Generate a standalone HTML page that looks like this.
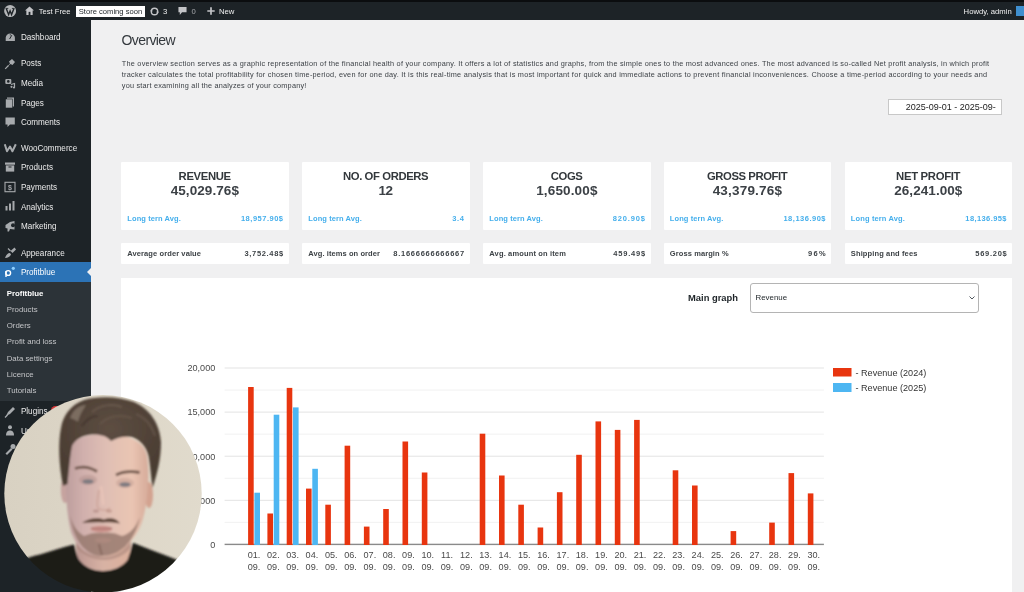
<!DOCTYPE html>
<html><head><meta charset="utf-8">
<style>
*{margin:0;padding:0;box-sizing:border-box}
html,body{width:1024px;height:592px;overflow:hidden;background:#f0f0f1;font-family:"Liberation Sans",sans-serif;color:#3c434a}
.abs{position:absolute}
#topbar{position:absolute;left:0;top:0;width:1034px;height:20px;background:#1d2327}
#topbar .blk{position:absolute;left:0;top:0;width:1034px;height:2px;background:#0b0d0f}
#side{position:absolute;left:0;top:20px;width:91.4px;height:582px;background:#1d2327}
.tb{position:absolute;color:#f0f0f0;font-size:7.7px;top:6.5px;line-height:9px;white-space:nowrap}
.mi{position:absolute;left:20.9px;color:#eaeaea;font-size:8.15px;line-height:10px;white-space:nowrap;margin-top:1.2px}
.sm{position:absolute;left:6.7px;color:#c3c4c7;font-size:7.85px;line-height:10px;white-space:nowrap;margin-top:0.8px}
.ic{position:absolute;left:5px;width:10px;height:10px}
#title{position:absolute;left:121.5px;top:31.6px;font-size:14px;letter-spacing:-0.6px;color:#33383d;white-space:nowrap}
#desc{position:absolute;left:121.8px;top:58.7px;font-size:7.3px;line-height:11.2px;color:#3a3f44;white-space:nowrap}
#date{position:absolute;left:888px;top:99px;width:114px;height:16px;background:#fff;border:1px solid #c8c8c8;font-size:9px;color:#222;padding-left:16.8px;line-height:14px;white-space:nowrap;overflow:hidden}
.card{position:absolute;background:#fff;border-radius:1px;width:167.6px}
.big{top:161.5px;height:68px}
.sml{top:243px;height:21px}
.ct{position:absolute;left:0;width:100%;text-align:center;font-weight:bold;font-size:11.3px;top:8.4px;color:#33383c;white-space:nowrap}
.cv{position:absolute;left:0;width:100%;text-align:center;font-weight:bold;font-size:13.5px;top:21.7px;color:#3c4146;white-space:nowrap}
.la{position:absolute;left:6.3px;top:52.9px;font-size:7.5px;color:#45afec;font-weight:bold;white-space:nowrap}
.ra{position:absolute;right:5.6px;top:52.9px;font-size:7.5px;color:#45afec;font-weight:bold;white-space:nowrap}
.ls{position:absolute;left:6.3px;top:6.3px;font-size:7.5px;color:#3d4246;font-weight:bold;white-space:nowrap}
.rs{position:absolute;right:5.4px;top:6.3px;font-size:7.5px;color:#3d4246;font-weight:bold;white-space:nowrap}
#panel{position:absolute;left:121px;top:277.5px;width:891px;height:320px;background:#fff}
#mg{position:absolute;left:688px;top:291.6px;font-size:9.4px;font-weight:bold;color:#1d2327;white-space:nowrap}
#sel{position:absolute;left:750px;top:283px;width:229px;height:29.5px;border:1px solid #b4b4b4;border-radius:3px;background:#fff}
#sel span{position:absolute;left:4.5px;top:9.3px;font-size:7.9px;color:#1d2327}
svg text.ax{font-family:"Liberation Sans",sans-serif;font-size:9.1px;fill:#4a4a4a}
svg text.lg{font-family:"Liberation Sans",sans-serif;font-size:9.1px;fill:#333}
#wrap{position:absolute;left:-10px;top:-10px;width:1044px;height:612px;background:#f0f0f1;overflow:hidden;filter:blur(0.75px)}
#inner{position:absolute;left:10px;top:10px;width:1024px;height:592px}
#ext1{position:absolute;left:-10px;top:-10px;width:1044px;height:12px;background:#0b0d0f}
#ext2{position:absolute;left:-10px;top:0;width:10px;height:610px;background:#1d2327}
#ext3{position:absolute;left:121px;top:590px;width:891px;height:12px;background:#fff}
</style></head><body>
<div id="wrap"><div id="inner">
<div id="ext1"></div><div id="ext2"></div><div id="ext3"></div>
<div id="topbar"><div class="blk"></div>
<svg class="abs" style="left:3.9px;top:4.9px" width="12.2" height="12.2" viewBox="0 0 20 20"><circle cx="10" cy="10" r="9.8" fill="#b4b6b8"/><path d="M3.8 6 L7.6 15.8 L10 9.6 L12.4 15.8 L16.2 6" fill="none" stroke="#1d2327" stroke-width="2.3"/><path d="M2.5 5.6 H7 M13 5.6 H17.5" stroke="#1d2327" stroke-width="1.4"/></svg>
<svg class="abs" style="left:25px;top:6px" width="9" height="9" viewBox="0 0 10 10"><path d="M5 0.5 L10 5 L8.5 5 L8.5 10 L1.5 10 L1.5 5 L0 5 Z" fill="#c3c4c7"/><rect x="4" y="6.5" width="2" height="3.5" fill="#1d2327"/></svg>
<div class="tb" style="left:38.8px;font-size:7.6px">Test Free</div>
<div class="abs" style="left:75.5px;top:6px;width:69px;height:10.5px;background:#fff"></div>
<div class="tb" style="left:78.8px;top:6.7px;color:#1d2327;font-size:7.6px">Store coming soon</div>
<svg class="abs" style="left:149.5px;top:6.5px" width="9" height="9" viewBox="0 0 10 10"><circle cx="5" cy="5" r="3.6" fill="none" stroke="#c3c4c7" stroke-width="1.5"/><path d="M0 4 L2 6 L3 4 Z M10 6 L8 4 L7 6Z" fill="#c3c4c7"/></svg>
<div class="tb" style="left:163px">3</div>
<svg class="abs" style="left:177.5px;top:6px" width="9" height="10" viewBox="0 0 10 10"><path d="M0.5 0.5 H9.5 V6.5 H4.5 L2 9.5 V6.5 H0.5 Z" fill="#c3c4c7"/></svg>
<div class="tb" style="left:191.5px;color:#a7aaad">0</div>
<svg class="abs" style="left:206.8px;top:7.4px" width="8" height="8" viewBox="0 0 8 8"><path d="M4 0.3 V7.7 M0.3 4 H7.7" stroke="#c3c4c7" stroke-width="1.7"/></svg>
<div class="tb" style="left:219px">New</div>
<div class="tb" style="left:963.6px">Howdy, admin</div>
<div class="abs" style="left:1016px;top:5.5px;width:10px;height:10px;background:#3f8fcf"></div>
</div>

<div id="side">
<div class="abs" style="left:0;top:241.6px;width:91.4px;height:20px;background:#2c73b6"></div>
<div class="abs" style="left:0;top:261.6px;width:91.4px;height:119.6px;background:#2c3338"></div>
<svg class="abs" style="left:86.6px;top:247px" width="5" height="10" viewBox="0 0 5 10"><path d="M5 0 L0 5 L5 10 Z" fill="#f0f0f1"/></svg>
<svg class="abs" style="left:0;top:0" width="91" height="572" viewBox="0 20 91 572">
<g fill="#a7aaad">
<!-- dashboard gauge -->
<path d="M5.7 41.1 V37.8 A4.6 4.4 0 0 1 14.9 37.8 V41.1 Z"/>
<path d="M9.6 39 L11.8 35.2" stroke="#1d2327" stroke-width="1"/>
<circle cx="10.3" cy="34.8" r="0.6" fill="#1d2327"/>
<!-- posts pin -->
<path d="M6 68 L10 63.5 L9 61.5 L12 59 L15 62 L12.5 65 L10.5 64 Z"/>
<path d="M5.2 68.8 L8.5 65.5" stroke="#a7aaad" stroke-width="1.2"/>
<!-- media -->
<rect x="5.3" y="79" width="6" height="5" rx="1"/>
<circle cx="8.3" cy="81.4" r="1.3" fill="#1d2327"/>
<path d="M11 84.5 L14.5 83.5 L14.5 87.5" stroke="#a7aaad" stroke-width="1.2" fill="none"/>
<circle cx="11.5" cy="86.8" r="1.1"/><circle cx="14" cy="87.5" r="1.1"/>
<!-- pages -->
<rect x="7" y="97.5" width="7" height="9"/>
<rect x="5.5" y="99" width="7" height="9" stroke="#1d2327" stroke-width="0.6"/>
<!-- comments -->
<path d="M5.5 117.5 H14.8 V124.5 H10 L7.5 127 V124.5 H5.5 Z"/>
<!-- woo W -->
<path d="M4.8 144.2 L7 151.3 L10 146.5 L12.4 151.3 L15.8 144.2" fill="none" stroke="#a7aaad" stroke-width="2" stroke-linejoin="round"/>
<!-- products archive -->
<rect x="5" y="162.5" width="10" height="2.2"/>
<rect x="5.8" y="165.4" width="8.4" height="6.2"/>
<rect x="8.5" y="166.5" width="3" height="1" fill="#1d2327"/>
<!-- payments -->
<rect x="5" y="182.3" width="10" height="9.4" fill="none" stroke="#a7aaad" stroke-width="1.1"/>
<text x="10" y="190.2" font-size="7" text-anchor="middle" font-family="Liberation Sans" font-weight="bold">$</text>
<!-- analytics -->
<rect x="5.5" y="206" width="2" height="4.5"/>
<rect x="9" y="203.5" width="2" height="7"/>
<rect x="12.5" y="201" width="2" height="9.5"/>
<!-- marketing megaphone -->
<path d="M5.5 225 L10 222 L14.5 221 L14.5 229.5 L10 229 L9 231.5 L7.5 231.5 L7.5 228.5 L5.5 228 Z"/>
<circle cx="13" cy="225.2" r="2" fill="#1d2327"/>
<!-- appearance brush -->
<path d="M14.5 247.5 L10.5 251 L12.5 253 L16 249.5 Z"/>
<path d="M5 258 C6 255 7.5 253 10 253 L11 254.5 C10 256.5 8 258 5 258 Z"/>
<path d="M8 248.5 L10.5 251" stroke="#a7aaad" stroke-width="1.2"/>
<!-- plugins -->
<path d="M6 416 L8 412 L13 407 L15 409 L10 414 Z"/>
<path d="M5 417.5 L7.5 415" stroke="#a7aaad" stroke-width="1.3"/>
<!-- users -->
<circle cx="10" cy="427.3" r="2"/>
<path d="M6 435.5 C6 431.5 8 430.5 10 430.5 C12 430.5 14 431.5 14 435.5 Z"/>
<!-- tools -->
<path d="M5.5 453.5 L11 448 L12.5 449.5 L7 455 Z"/>
<circle cx="13" cy="446.5" r="2.5"/>
</g>
<!-- profitblue logo -->
<g>
<circle cx="8.2" cy="273" r="2.4" fill="none" stroke="#fff" stroke-width="1.4"/>
<rect x="5.3" y="271" width="1.4" height="6" fill="#fff"/>
<circle cx="13.3" cy="268.3" r="1.6" fill="#8fd0ff"/>
</g>
</svg>
<div class="mi" style="top:12.2px">Dashboard</div>
<div class="mi" style="top:38px">Posts</div>
<div class="mi" style="top:57.9px">Media</div>
<div class="mi" style="top:77.6px">Pages</div>
<div class="mi" style="top:97px">Comments</div>
<div class="mi" style="top:122.7px">WooCommerce</div>
<div class="mi" style="top:142.3px">Products</div>
<div class="mi" style="top:162px">Payments</div>
<div class="mi" style="top:181.6px">Analytics</div>
<div class="mi" style="top:201.3px">Marketing</div>
<div class="mi" style="top:227.4px">Appearance</div>
<div class="mi" style="top:246.4px;color:#fff">Profitblue</div>
<div class="sm" style="top:267.8px;color:#fff;font-weight:bold">Profitblue</div>
<div class="sm" style="top:284px">Products</div>
<div class="sm" style="top:300.3px">Orders</div>
<div class="sm" style="top:316.5px">Profit and loss</div>
<div class="sm" style="top:332.9px">Data settings</div>
<div class="sm" style="top:349px">Licence</div>
<div class="sm" style="top:365px">Tutorials</div>
<div class="mi" style="top:386.2px">Plugins</div>
<div class="abs" style="left:50.8px;top:386.3px;width:11px;height:9px;border-radius:5px;background:#d63638"></div>
<div class="mi" style="top:406.2px">Users</div>
<div class="mi" style="top:424.7px">Tools</div>
<div class="mi" style="top:444px">Settings</div>
</div>

<div id="title">Overview</div>
<div id="desc"><div style="position:absolute;left:0;top:-0.6px;letter-spacing:0.241px">The overview section serves as a graphic representation of the financial health of your company. It offers a lot of statistics and graphs, from the simple ones to the most advanced ones. The most advanced is so-called Net profit analysis, in which profit</div><div style="position:absolute;left:0;top:10.6px;letter-spacing:0.25px">tracker calculates the total profitability for chosen time-period, even for one day. It is this real-time analysis that is most important for quick and immediate actions to prevent financial inconveniences. Choose a time-period according to your needs and</div><div style="position:absolute;left:0;top:21.6px;letter-spacing:0.21px">you start examining all the analyzes of your company!</div></div>
<div id="date">2025-09-01 - 2025-09-</div>

<div class="card big" style="left:121px"><div class="ct"><span style="letter-spacing:-0.367px;margin-right:0.367px">REVENUE</span></div><div class="cv"><span style="letter-spacing:0.083px;margin-right:-0.083px">45,029.76$</span></div><div class="la" style="letter-spacing:0.088px">Long tern Avg.</div><div class="ra" style="letter-spacing:0.500px;margin-right:-0.500px">18,957.90$</div></div>
<div class="card big" style="left:302px"><div class="ct"><span style="letter-spacing:-0.396px;margin-right:0.396px">NO. OF ORDERS</span></div><div class="cv"><span style="letter-spacing:-0.550px;margin-right:0.550px">12</span></div><div class="la" style="letter-spacing:0.088px">Long tern Avg.</div><div class="ra" style="letter-spacing:0.675px;margin-right:-0.675px">3.4</div></div>
<div class="card big" style="left:483px"><div class="ct"><span style="letter-spacing:-0.367px;margin-right:0.367px">COGS</span></div><div class="cv"><span style="letter-spacing:0.144px;margin-right:-0.144px">1,650.00$</span></div><div class="la" style="letter-spacing:0.088px">Long tern Avg.</div><div class="ra" style="letter-spacing:0.842px;margin-right:-0.842px">820.90$</div></div>
<div class="card big" style="left:663.5px"><div class="ct"><span style="letter-spacing:-0.414px;margin-right:0.414px">GROSS PROFIT</span></div><div class="cv"><span style="letter-spacing:0.194px;margin-right:-0.194px">43,379.76$</span></div><div class="la" style="letter-spacing:0.088px">Long tern Avg.</div><div class="ra" style="letter-spacing:0.500px;margin-right:-0.500px">18,136.90$</div></div>
<div class="card big" style="left:844.5px"><div class="ct"><span style="letter-spacing:-0.306px;margin-right:0.306px">NET PROFIT</span></div><div class="cv"><span style="letter-spacing:0.067px;margin-right:-0.067px">26,241.00$</span></div><div class="la" style="letter-spacing:0.135px">Long tern Avg.</div><div class="ra" style="letter-spacing:0.400px;margin-right:-0.400px">18,136.95$</div></div>
<div class="card sml" style="left:121px"><div class="ls" style="letter-spacing:0.100px">Average order value</div><div class="rs" style="letter-spacing:0.662px;margin-right:-0.662px">3,752.48$</div></div>
<div class="card sml" style="left:302px"><div class="ls" style="letter-spacing:0.081px">Avg. items on order</div><div class="rs" style="letter-spacing:0.750px;margin-right:-0.750px">8.1666666666667</div></div>
<div class="card sml" style="left:483px"><div class="ls" style="letter-spacing:0.147px">Avg. amount on item</div><div class="rs" style="letter-spacing:0.800px;margin-right:-0.800px">459.49$</div></div>
<div class="card sml" style="left:663.5px"><div class="ls" style="letter-spacing:0.096px">Gross margin %</div><div class="rs" style="letter-spacing:1.400px;margin-right:-1.400px">96%</div></div>
<div class="card sml" style="left:844.5px"><div class="ls" style="letter-spacing:0.125px">Shipping and fees</div><div class="rs" style="letter-spacing:0.708px;margin-right:-0.708px">569.20$</div></div>

<div id="panel"></div>
<div id="mg">Main graph</div>
<div id="sel"><span>Revenue</span><svg class="abs" style="left:218px;top:12px" width="6" height="4" viewBox="0 0 6 4"><path d="M0.5 0.5 L3 3 L5.5 0.5" fill="none" stroke="#50575e" stroke-width="1"/></svg></div>

<svg class="abs" style="left:0;top:0" width="1024" height="592">
<rect x="224.6" y="367.50" width="599.3" height="1" fill="#e3e3e3"/>
<rect x="224.6" y="389.55" width="599.3" height="1" fill="#f1f1f1"/>
<rect x="224.6" y="411.60" width="599.3" height="1" fill="#e3e3e3"/>
<rect x="224.6" y="433.65" width="599.3" height="1" fill="#f1f1f1"/>
<rect x="224.6" y="455.70" width="599.3" height="1" fill="#e3e3e3"/>
<rect x="224.6" y="477.75" width="599.3" height="1" fill="#f1f1f1"/>
<rect x="224.6" y="499.80" width="599.3" height="1" fill="#e3e3e3"/>
<rect x="224.6" y="521.85" width="599.3" height="1" fill="#f1f1f1"/>
<rect x="224.6" y="543.70" width="599.3" height="1.4" fill="#8a8a8a"/>
<rect x="248.10" y="387.00" width="5.6" height="158.00" fill="#e8350f"/>
<rect x="267.40" y="513.50" width="5.6" height="31.50" fill="#e8350f"/>
<rect x="286.70" y="387.90" width="5.6" height="157.10" fill="#e8350f"/>
<rect x="306.00" y="488.60" width="5.6" height="56.40" fill="#e8350f"/>
<rect x="325.30" y="504.70" width="5.6" height="40.30" fill="#e8350f"/>
<rect x="344.60" y="445.70" width="5.6" height="99.30" fill="#e8350f"/>
<rect x="363.90" y="526.60" width="5.6" height="18.40" fill="#e8350f"/>
<rect x="383.20" y="509.00" width="5.6" height="36.00" fill="#e8350f"/>
<rect x="402.50" y="441.50" width="5.6" height="103.50" fill="#e8350f"/>
<rect x="421.80" y="472.50" width="5.6" height="72.50" fill="#e8350f"/>
<rect x="479.70" y="433.70" width="5.6" height="111.30" fill="#e8350f"/>
<rect x="499.00" y="475.50" width="5.6" height="69.50" fill="#e8350f"/>
<rect x="518.30" y="504.70" width="5.6" height="40.30" fill="#e8350f"/>
<rect x="537.60" y="527.50" width="5.6" height="17.50" fill="#e8350f"/>
<rect x="556.90" y="492.20" width="5.6" height="52.80" fill="#e8350f"/>
<rect x="576.20" y="454.80" width="5.6" height="90.20" fill="#e8350f"/>
<rect x="595.50" y="421.40" width="5.6" height="123.60" fill="#e8350f"/>
<rect x="614.80" y="429.90" width="5.6" height="115.10" fill="#e8350f"/>
<rect x="634.10" y="419.90" width="5.6" height="125.10" fill="#e8350f"/>
<rect x="672.70" y="470.30" width="5.6" height="74.70" fill="#e8350f"/>
<rect x="692.00" y="485.50" width="5.6" height="59.50" fill="#e8350f"/>
<rect x="730.60" y="531.10" width="5.6" height="13.90" fill="#e8350f"/>
<rect x="769.20" y="522.60" width="5.6" height="22.40" fill="#e8350f"/>
<rect x="788.50" y="473.10" width="5.6" height="71.90" fill="#e8350f"/>
<rect x="807.80" y="493.40" width="5.6" height="51.60" fill="#e8350f"/>
<rect x="254.40" y="492.70" width="5.6" height="52.30" fill="#4db6f2"/>
<rect x="273.70" y="414.70" width="5.6" height="130.30" fill="#4db6f2"/>
<rect x="293.00" y="407.40" width="5.6" height="137.60" fill="#4db6f2"/>
<rect x="312.30" y="468.80" width="5.6" height="76.20" fill="#4db6f2"/>
<text x="215.3" y="371.30" text-anchor="end" class="ax">20,000</text>
<text x="215.3" y="415.40" text-anchor="end" class="ax">15,000</text>
<text x="215.3" y="459.50" text-anchor="end" class="ax">10,000</text>
<text x="215.3" y="503.60" text-anchor="end" class="ax">5,000</text>
<text x="215.3" y="547.70" text-anchor="end" class="ax">0</text>
<text x="254.05" y="557.8" text-anchor="middle" class="ax">01.</text>
<text x="254.05" y="570.0" text-anchor="middle" class="ax">09.</text>
<text x="273.35" y="557.8" text-anchor="middle" class="ax">02.</text>
<text x="273.35" y="570.0" text-anchor="middle" class="ax">09.</text>
<text x="292.65" y="557.8" text-anchor="middle" class="ax">03.</text>
<text x="292.65" y="570.0" text-anchor="middle" class="ax">09.</text>
<text x="311.95" y="557.8" text-anchor="middle" class="ax">04.</text>
<text x="311.95" y="570.0" text-anchor="middle" class="ax">09.</text>
<text x="331.25" y="557.8" text-anchor="middle" class="ax">05.</text>
<text x="331.25" y="570.0" text-anchor="middle" class="ax">09.</text>
<text x="350.55" y="557.8" text-anchor="middle" class="ax">06.</text>
<text x="350.55" y="570.0" text-anchor="middle" class="ax">09.</text>
<text x="369.85" y="557.8" text-anchor="middle" class="ax">07.</text>
<text x="369.85" y="570.0" text-anchor="middle" class="ax">09.</text>
<text x="389.15" y="557.8" text-anchor="middle" class="ax">08.</text>
<text x="389.15" y="570.0" text-anchor="middle" class="ax">09.</text>
<text x="408.45" y="557.8" text-anchor="middle" class="ax">09.</text>
<text x="408.45" y="570.0" text-anchor="middle" class="ax">09.</text>
<text x="427.75" y="557.8" text-anchor="middle" class="ax">10.</text>
<text x="427.75" y="570.0" text-anchor="middle" class="ax">09.</text>
<text x="447.05" y="557.8" text-anchor="middle" class="ax">11.</text>
<text x="447.05" y="570.0" text-anchor="middle" class="ax">09.</text>
<text x="466.35" y="557.8" text-anchor="middle" class="ax">12.</text>
<text x="466.35" y="570.0" text-anchor="middle" class="ax">09.</text>
<text x="485.65" y="557.8" text-anchor="middle" class="ax">13.</text>
<text x="485.65" y="570.0" text-anchor="middle" class="ax">09.</text>
<text x="504.95" y="557.8" text-anchor="middle" class="ax">14.</text>
<text x="504.95" y="570.0" text-anchor="middle" class="ax">09.</text>
<text x="524.25" y="557.8" text-anchor="middle" class="ax">15.</text>
<text x="524.25" y="570.0" text-anchor="middle" class="ax">09.</text>
<text x="543.55" y="557.8" text-anchor="middle" class="ax">16.</text>
<text x="543.55" y="570.0" text-anchor="middle" class="ax">09.</text>
<text x="562.85" y="557.8" text-anchor="middle" class="ax">17.</text>
<text x="562.85" y="570.0" text-anchor="middle" class="ax">09.</text>
<text x="582.15" y="557.8" text-anchor="middle" class="ax">18.</text>
<text x="582.15" y="570.0" text-anchor="middle" class="ax">09.</text>
<text x="601.45" y="557.8" text-anchor="middle" class="ax">19.</text>
<text x="601.45" y="570.0" text-anchor="middle" class="ax">09.</text>
<text x="620.75" y="557.8" text-anchor="middle" class="ax">20.</text>
<text x="620.75" y="570.0" text-anchor="middle" class="ax">09.</text>
<text x="640.05" y="557.8" text-anchor="middle" class="ax">21.</text>
<text x="640.05" y="570.0" text-anchor="middle" class="ax">09.</text>
<text x="659.35" y="557.8" text-anchor="middle" class="ax">22.</text>
<text x="659.35" y="570.0" text-anchor="middle" class="ax">09.</text>
<text x="678.65" y="557.8" text-anchor="middle" class="ax">23.</text>
<text x="678.65" y="570.0" text-anchor="middle" class="ax">09.</text>
<text x="697.95" y="557.8" text-anchor="middle" class="ax">24.</text>
<text x="697.95" y="570.0" text-anchor="middle" class="ax">09.</text>
<text x="717.25" y="557.8" text-anchor="middle" class="ax">25.</text>
<text x="717.25" y="570.0" text-anchor="middle" class="ax">09.</text>
<text x="736.55" y="557.8" text-anchor="middle" class="ax">26.</text>
<text x="736.55" y="570.0" text-anchor="middle" class="ax">09.</text>
<text x="755.85" y="557.8" text-anchor="middle" class="ax">27.</text>
<text x="755.85" y="570.0" text-anchor="middle" class="ax">09.</text>
<text x="775.15" y="557.8" text-anchor="middle" class="ax">28.</text>
<text x="775.15" y="570.0" text-anchor="middle" class="ax">09.</text>
<text x="794.45" y="557.8" text-anchor="middle" class="ax">29.</text>
<text x="794.45" y="570.0" text-anchor="middle" class="ax">09.</text>
<text x="813.75" y="557.8" text-anchor="middle" class="ax">30.</text>
<text x="813.75" y="570.0" text-anchor="middle" class="ax">09.</text>

<rect x="833" y="368" width="18.5" height="8.5" fill="#e8350f"/>
<rect x="833" y="383" width="18.5" height="9" fill="#4db6f2"/>
<text x="855.5" y="376.3" class="lg">- Revenue (2024)</text>
<text x="855.5" y="390.8" class="lg">- Revenue (2025)</text>
</svg>

<svg class="abs" style="left:0;top:0" width="1024" height="592">
<defs>
<mask id="cc" maskUnits="userSpaceOnUse" x="0" y="380" width="220" height="220"><circle cx="103" cy="493.7" r="98.7" fill="#fff"/></mask>
<linearGradient id="bg" x1="0" y1="0" x2="1" y2="0">
<stop offset="0" stop-color="#d8d1c2"/><stop offset="0.5" stop-color="#ddd6c7"/><stop offset="1" stop-color="#e1dbcd"/>
</linearGradient>
<linearGradient id="skin" x1="0" y1="0" x2="1" y2="0">
<stop offset="0" stop-color="#bd9e9d"/><stop offset="0.22" stop-color="#d1b0ad"/><stop offset="0.5" stop-color="#e0bfb4"/><stop offset="0.8" stop-color="#eac5b3"/><stop offset="1" stop-color="#d6ab9a"/>
</linearGradient>
<linearGradient id="neck" x1="0" y1="0" x2="1" y2="0">
<stop offset="0" stop-color="#b99590"/><stop offset="0.5" stop-color="#d8b2a4"/><stop offset="1" stop-color="#dcb09c"/>
</linearGradient>
<radialGradient id="hairg" cx="0.5" cy="0.35" r="0.6">
<stop offset="0" stop-color="#5d4e42"/><stop offset="1" stop-color="#4a3c32"/>
</radialGradient>
<filter id="bl" x="-10%" y="-10%" width="120%" height="120%"><feGaussianBlur stdDeviation="1.2"/></filter>
</defs>
<g mask="url(#cc)">
<rect x="0" y="390" width="210" height="210" fill="url(#bg)"/>
<g filter="url(#bl)">
<!-- neck -->
<path d="M75 532 L131 528 L130 560 C122 567 112 571 103 571 C92 571 83 566 77 558 Z" fill="url(#neck)"/>
<path d="M76 540 C84 552 96 557 104 557 C114 557 124 552 131 540 L131 548 C124 556 114 560 104 560 C94 560 84 556 76 548 Z" fill="#a9857c" opacity="0.6"/>
<!-- shirt -->
<path d="M0 578 C10 566 25 557 40 554.4 C52 551 64 547 74 544.5 C75.5 550 76.5 555 78.5 559 C84 567 93 571 103 571 C113 571 122 567 127.5 560 C129.5 555 131 549 133 542.7 C146 548 160 553 175 559 C188 564 198 570 210 578 L210 600 L0 600 Z" fill="#1e1a19"/>
<!-- ears -->
<ellipse cx="65" cy="490" rx="4.2" ry="13" fill="#c6a39f"/>
<ellipse cx="149" cy="495" rx="4" ry="13" fill="#d3a390"/>
<!-- face -->
<path d="M68 452 C70 440 84 434 104 434 C126 434 144 440 147 456 C150 476 148 502 142 522 C136 540 120 556 101 556 C86 556 76 546 71 532 C66 512 64 478 68 452 Z" fill="url(#skin)"/>
<!-- beard / stubble -->
<path d="M70 515 C73 540 86 556 101 556 C119 556 134 544 140 517 C136 527 130 534 122 536 C116 533 110 532 104 533 C97 532 90 533 84 536 C77 532 72 524 70 515 Z" fill="#93756a" opacity="0.8"/>
<path d="M94 540 C98 537 108 537 112 540 C109 544 98 544 94 540 Z" fill="#b08b80" opacity="0.7"/>
<path d="M99 544 C100 549 101 552 102 555" stroke="#7a5c52" stroke-width="2" fill="none" opacity="0.6"/>
<!-- hair -->
<path d="M63 486 C59 466 58 442 61 428 C63 416 70 405 84 400 C98 396 118 396 134 402 C150 409 160 424 161 442 C161 460 157 474 152.5 488 C151 476 150 464 148.5 456 C146 446 140 440 132 437 C124 436 118 437 111 441 C107 436 100 434 92 434.5 C82 435 75 440 72 446 C70 456 69 470 67.5 484 Z" fill="url(#hairg)"/>
<path d="M70 418 C73 410 79 405 86 405 C83 410 80 414 78 422 C76 420 73 419 70 418 Z" fill="#8a7b6f" opacity="0.75"/>
<path d="M92 412 C100 405 112 403 122 407" stroke="#716154" stroke-width="2" fill="none" opacity="0.7"/>
<path d="M100 424 C108 416 120 414 132 418" stroke="#6c5b4f" stroke-width="2" fill="none" opacity="0.6"/>
<path d="M136 414 C146 418 152 426 155 436" stroke="#6e5e52" stroke-width="2" fill="none" opacity="0.6"/>
<path d="M82 426 C86 420 92 416 98 416" stroke="#3e3129" stroke-width="2" fill="none" opacity="0.6"/>
<!-- eye sockets -->
<ellipse cx="88" cy="480" rx="9" ry="5" fill="#ad8b88" opacity="0.45"/>
<ellipse cx="125" cy="483" rx="9" ry="5" fill="#bf998f" opacity="0.45"/>
<!-- eyebrows -->
<path d="M75 468.5 C82 466 90 467 97 471.5" stroke="#6e5549" stroke-width="2.8" fill="none"/>
<path d="M116 475 C123 471.5 131 471 139.5 472.5" stroke="#6e5549" stroke-width="2.8" fill="none"/>
<!-- eyes -->
<ellipse cx="88" cy="481.5" rx="5.5" ry="2.3" fill="#7e7a80"/>
<ellipse cx="125" cy="484.5" rx="5.5" ry="2.3" fill="#7e7a80"/>
<!-- nose -->
<path d="M101 486 C102 494 103 500 103 505" stroke="#ecc8ba" stroke-width="3" fill="none" opacity="0.6"/>
<path d="M99 490 C98 497 96 503 98 508 C101 511 107 511 110 508" stroke="#c5988c" stroke-width="1.6" fill="none" opacity="0.6"/>
<ellipse cx="96" cy="511" rx="3" ry="1.5" fill="#a97e78" opacity="0.6"/>
<ellipse cx="109" cy="511" rx="3" ry="1.5" fill="#b38478" opacity="0.6"/>
<!-- mustache -->
<path d="M82 523 C88 518 98 517 104 519.5 C110 517 117 518.5 120 523.5 C113 522.5 108 522 103 522.5 C96 522 89 522.5 82 523 Z" fill="#5a4236"/>
<!-- mouth -->
<ellipse cx="101.5" cy="529" rx="11" ry="3.3" fill="#c98f88"/>
<path d="M91 528 C97 529 106 529 112 528" stroke="#9c6a64" stroke-width="0.8" fill="none"/>
</g>
</g>
</svg>

</div></div>
</body></html>
